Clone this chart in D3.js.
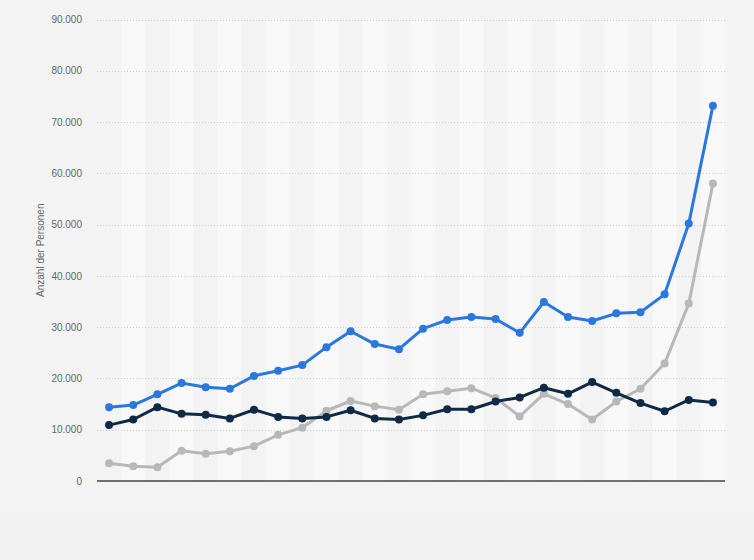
<!DOCTYPE html>
<html>
<head>
<meta charset="utf-8">
<script src="https://cdn.jsdelivr.net/npm/d3@7"></script>
<style>
html,body{margin:0;padding:0;background:#f2f2f2;}
svg{display:block;}
</style>
</head>
<body>
<svg id="chart" width="754" height="560"></svg>
<script>
const categories = d3.range(1, 27).map(i => "P" + i);
const seriesBlue = [14400,14800,16900,19100,18300,18000,20500,21500,22600,26100,29200,26700,25700,29700,31400,32000,31600,28900,34900,32000,31200,32700,32900,36400,50200,73200];
const seriesNavy = [10900,12000,14400,13100,12900,12200,13900,12500,12200,12500,13800,12200,12000,12800,14000,14000,15500,16300,18200,17000,19300,17200,15200,13600,15800,15300];
const seriesGray = [3450,2870,2670,5900,5300,5800,6800,9000,10400,13700,15600,14600,13900,16900,17500,18100,16200,12600,17000,15000,12000,15500,18000,22900,34600,58000];
const yTicks = [0,10000,20000,30000,40000,50000,60000,70000,80000,90000];
const yTickLabels = ["0","10.000","20.000","30.000","40.000","50.000","60.000","70.000","80.000","90.000"];
const yTitle = "Anzahl der Personen";

const svg = d3.select("#chart");
const W = 754, H = 560;
const m = {left: 97, right: 29, top: 19.5, bottom: 79};
const iw = W - m.left - m.right, ih = H - m.top - m.bottom;

svg.append("rect").attr("x",0).attr("y",0).attr("width",W).attr("height",512).attr("fill","#f3f3f3");

const x = d3.scaleBand().domain(categories).range([m.left, m.left + iw]).padding(0);
const y = d3.scaleLinear().domain([0, 90000]).range([m.top + ih, m.top]);

// alternating bands
svg.append("g").selectAll("rect").data(categories).join("rect")
  .attr("x", d => x(d)).attr("y", m.top)
  .attr("width", x.bandwidth()).attr("height", ih)
  .attr("fill", (d,i) => i % 2 === 1 ? "#f8f8f8" : "none");

// y axis labels
const yAxis = d3.axisLeft(y).tickValues(yTicks).tickFormat((d,i) => yTickLabels[i]).tickSize(0).tickPadding(15);
const gy = svg.append("g").attr("transform", `translate(${m.left},0)`).call(yAxis);
gy.select(".domain").remove();
gy.selectAll("text").attr("fill","#666").style("font-family","Arial, 'Liberation Sans', sans-serif").style("font-size","10px");

// grid
svg.append("g").selectAll("line").data(yTicks.filter(d => d > 0)).join("line")
  .attr("x1", m.left).attr("x2", m.left + iw)
  .attr("y1", d => Math.round(y(d)) + 0.5).attr("y2", d => Math.round(y(d)) + 0.5)
  .attr("stroke", "#cfcfcf").attr("stroke-width", 1).attr("stroke-dasharray", "1,2");

// baseline
svg.append("line").attr("x1", m.left).attr("x2", m.left + iw)
  .attr("y1", y(0)).attr("y2", y(0)).attr("stroke", "#444").attr("stroke-width", 1.5);

// y title
svg.append("text").attr("transform", `translate(44,${m.top + ih/2}) rotate(-90)`)
  .attr("text-anchor","middle").attr("fill","#666")
  .style("font-family","Arial, 'Liberation Sans', sans-serif").style("font-size","10px")
  .text(yTitle);

const series = [
  {values: seriesGray, color: "#b8b8b8"},
  {values: seriesNavy, color: "#0f2a44"},
  {values: seriesBlue, color: "#2a78de"}
];
const cx = (d,i) => x(categories[i]) + x.bandwidth()/2;
const line = d3.line().x(cx).y(d => y(d));
series.forEach(s => {
  const g = svg.append("g");
  g.append("path").datum(s.values).attr("d", line)
    .attr("fill","none").attr("stroke", s.color).attr("stroke-width", 3).attr("stroke-linejoin","round");
  g.selectAll("circle").data(s.values).join("circle")
    .attr("cx", cx).attr("cy", d => y(d)).attr("r", 4).attr("fill", s.color);
});
</script>
</body>
</html>
